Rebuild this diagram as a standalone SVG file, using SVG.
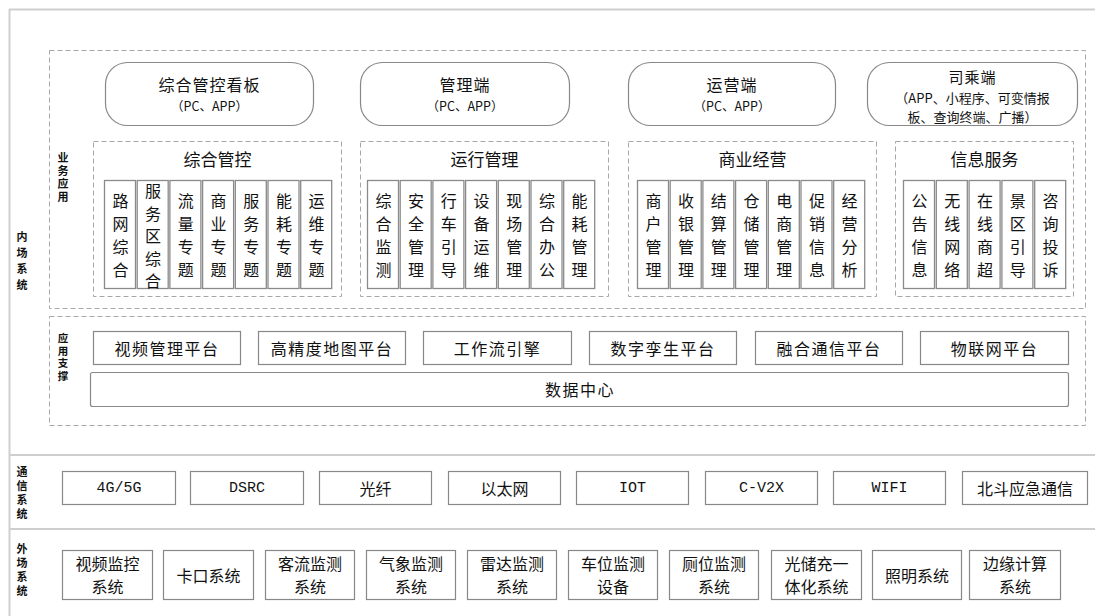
<svg xmlns="http://www.w3.org/2000/svg" width="1095" height="616" viewBox="0 0 1095 616">
<style>
text{font-family:"Noto Sans CJK SC","Liberation Sans",sans-serif;fill:#111;text-anchor:middle;dominant-baseline:central}
.panel{fill:none;stroke:#cfcfcf;stroke-width:2}
.dash{fill:none;stroke:#a8a8a8;stroke-width:1;stroke-dasharray:5 3}
.rbox{fill:#fff;stroke:#888;stroke-width:1.2}
.box{fill:#fff;stroke:#888;stroke-width:1.2}
.col{fill:#fff;stroke:#8a8a8a;stroke-width:1.3}
.side{font-size:11px;font-weight:bold;writing-mode:vertical-rl}
.t1{font-size:16px;letter-spacing:1px}
.t2{font-size:12.5px}
.t3{font-size:13px}
.st{font-size:17px}
.ct{font-size:16px}
.pt{font-size:16px;letter-spacing:1.5px}
.mt{font-size:15px;font-family:"Liberation Mono","Noto Sans CJK SC",monospace}
.et{font-size:16px}
</style>

<g id="panels">
<line class="panel" x1="9" y1="9.5" x2="1095" y2="9.5"/>
<line class="panel" x1="9.5" y1="9" x2="9.5" y2="616"/>
<line class="panel" x1="9" y1="455" x2="1095" y2="455"/>
<line class="panel" x1="9" y1="529" x2="1095" y2="529"/>
<rect class="dash" x="49.5" y="50.5" width="1036" height="258"/>
<rect class="dash" x="49.5" y="316.5" width="1036" height="109"/>
</g>

<g id="side-labels">
<text class="side" x="22" y="263" style="letter-spacing:5px">内场系统</text>
<text class="side" x="63" y="178.5" style="letter-spacing:2px">业务应用</text>
<text class="side" x="63" y="358" style="letter-spacing:2px;font-size:10.5px">应用支撑</text>
<text class="side" x="22" y="494.5" style="letter-spacing:3px">通信系统</text>
<text class="side" x="22" y="571.5" style="letter-spacing:3px">外场系统</text>
</g>

<g id="kanban"><rect class="rbox" x="105.5" y="62.5" width="208" height="63" rx="22"/><text class="t1" x="209.5" y="84">综合管控看板</text><text class="t2" x="209.5" y="105.5">（PC、APP）</text></g>
<g id="guanliduan"><rect class="rbox" x="360.5" y="62.5" width="209" height="63" rx="22"/><text class="t1" x="465" y="84">管理端</text><text class="t2" x="465" y="105.5">（PC、APP）</text></g>
<g id="yunyingduan"><rect class="rbox" x="628.5" y="62.5" width="207" height="63" rx="22"/><text class="t1" x="732" y="84">运营端</text><text class="t2" x="732" y="105.5">（PC、APP）</text></g>
<g id="sichengduan"><rect class="rbox" x="867.5" y="62.5" width="210" height="63" rx="22"/><text class="t1" x="972.5" y="76.5" style="font-size:15px">司乘端</text><text class="t3" x="972.5" y="97">（APP、小程序、可变情报</text><text class="t3" x="972.5" y="116">板、查询终端、广播）</text></g>

<g id="zonghe-guankong">
<rect class="dash" x="93.5" y="141.5" width="248" height="155"/>
<text class="st" x="217.5" y="158">综合管控</text>
<g id="c1-1"><rect class="col" x="104.5" y="180.5" width="31" height="108"/><text class="ct"><tspan x="120.4" y="200">路</tspan><tspan x="120.4" y="223">网</tspan><tspan x="120.4" y="246">综</tspan><tspan x="120.4" y="269">合</tspan></text></g>
<g id="c1-2"><rect class="col" x="137.2" y="180.5" width="31" height="108"/><text class="ct"><tspan x="153.1" y="190">服</tspan><tspan x="153.1" y="212.5">务</tspan><tspan x="153.1" y="235">区</tspan><tspan x="153.1" y="257.5">综</tspan><tspan x="153.1" y="280">合</tspan></text></g>
<g id="c1-3"><rect class="col" x="169.9" y="180.5" width="31" height="108"/><text class="ct"><tspan x="185.8" y="200">流</tspan><tspan x="185.8" y="223">量</tspan><tspan x="185.8" y="246">专</tspan><tspan x="185.8" y="269">题</tspan></text></g>
<g id="c1-4"><rect class="col" x="202.6" y="180.5" width="31" height="108"/><text class="ct"><tspan x="218.5" y="200">商</tspan><tspan x="218.5" y="223">业</tspan><tspan x="218.5" y="246">专</tspan><tspan x="218.5" y="269">题</tspan></text></g>
<g id="c1-5"><rect class="col" x="235.3" y="180.5" width="31" height="108"/><text class="ct"><tspan x="251.2" y="200">服</tspan><tspan x="251.2" y="223">务</tspan><tspan x="251.2" y="246">专</tspan><tspan x="251.2" y="269">题</tspan></text></g>
<g id="c1-6"><rect class="col" x="268" y="180.5" width="31" height="108"/><text class="ct"><tspan x="283.9" y="200">能</tspan><tspan x="283.9" y="223">耗</tspan><tspan x="283.9" y="246">专</tspan><tspan x="283.9" y="269">题</tspan></text></g>
<g id="c1-7"><rect class="col" x="300.7" y="180.5" width="31" height="108"/><text class="ct"><tspan x="316.6" y="200">运</tspan><tspan x="316.6" y="223">维</tspan><tspan x="316.6" y="246">专</tspan><tspan x="316.6" y="269">题</tspan></text></g>
</g>

<g id="yunxing-guanli">
<rect class="dash" x="360.5" y="141.5" width="248" height="155"/>
<text class="st" x="484.5" y="158">运行管理</text>
<g id="c2-1"><rect class="col" x="367.5" y="180.5" width="31" height="108"/><text class="ct"><tspan x="383.4" y="200">综</tspan><tspan x="383.4" y="223">合</tspan><tspan x="383.4" y="246">监</tspan><tspan x="383.4" y="269">测</tspan></text></g>
<g id="c2-2"><rect class="col" x="400.2" y="180.5" width="31" height="108"/><text class="ct"><tspan x="416.1" y="200">安</tspan><tspan x="416.1" y="223">全</tspan><tspan x="416.1" y="246">管</tspan><tspan x="416.1" y="269">理</tspan></text></g>
<g id="c2-3"><rect class="col" x="432.9" y="180.5" width="31" height="108"/><text class="ct"><tspan x="448.8" y="200">行</tspan><tspan x="448.8" y="223">车</tspan><tspan x="448.8" y="246">引</tspan><tspan x="448.8" y="269">导</tspan></text></g>
<g id="c2-4"><rect class="col" x="465.6" y="180.5" width="31" height="108"/><text class="ct"><tspan x="481.5" y="200">设</tspan><tspan x="481.5" y="223">备</tspan><tspan x="481.5" y="246">运</tspan><tspan x="481.5" y="269">维</tspan></text></g>
<g id="c2-5"><rect class="col" x="498.3" y="180.5" width="31" height="108"/><text class="ct"><tspan x="514.2" y="200">现</tspan><tspan x="514.2" y="223">场</tspan><tspan x="514.2" y="246">管</tspan><tspan x="514.2" y="269">理</tspan></text></g>
<g id="c2-6"><rect class="col" x="531" y="180.5" width="31" height="108"/><text class="ct"><tspan x="546.9" y="200">综</tspan><tspan x="546.9" y="223">合</tspan><tspan x="546.9" y="246">办</tspan><tspan x="546.9" y="269">公</tspan></text></g>
<g id="c2-7"><rect class="col" x="563.7" y="180.5" width="31" height="108"/><text class="ct"><tspan x="579.6" y="200">能</tspan><tspan x="579.6" y="223">耗</tspan><tspan x="579.6" y="246">管</tspan><tspan x="579.6" y="269">理</tspan></text></g>
</g>

<g id="shangye-jingying">
<rect class="dash" x="628.5" y="141.5" width="248" height="155"/>
<text class="st" x="752.5" y="158">商业经营</text>
<g id="c3-1"><rect class="col" x="637.5" y="180.5" width="31" height="108"/><text class="ct"><tspan x="653.4" y="200">商</tspan><tspan x="653.4" y="223">户</tspan><tspan x="653.4" y="246">管</tspan><tspan x="653.4" y="269">理</tspan></text></g>
<g id="c3-2"><rect class="col" x="670.2" y="180.5" width="31" height="108"/><text class="ct"><tspan x="686.1" y="200">收</tspan><tspan x="686.1" y="223">银</tspan><tspan x="686.1" y="246">管</tspan><tspan x="686.1" y="269">理</tspan></text></g>
<g id="c3-3"><rect class="col" x="702.9" y="180.5" width="31" height="108"/><text class="ct"><tspan x="718.8" y="200">结</tspan><tspan x="718.8" y="223">算</tspan><tspan x="718.8" y="246">管</tspan><tspan x="718.8" y="269">理</tspan></text></g>
<g id="c3-4"><rect class="col" x="735.6" y="180.5" width="31" height="108"/><text class="ct"><tspan x="751.5" y="200">仓</tspan><tspan x="751.5" y="223">储</tspan><tspan x="751.5" y="246">管</tspan><tspan x="751.5" y="269">理</tspan></text></g>
<g id="c3-5"><rect class="col" x="768.3" y="180.5" width="31" height="108"/><text class="ct"><tspan x="784.2" y="200">电</tspan><tspan x="784.2" y="223">商</tspan><tspan x="784.2" y="246">管</tspan><tspan x="784.2" y="269">理</tspan></text></g>
<g id="c3-6"><rect class="col" x="801" y="180.5" width="31" height="108"/><text class="ct"><tspan x="816.9" y="200">促</tspan><tspan x="816.9" y="223">销</tspan><tspan x="816.9" y="246">信</tspan><tspan x="816.9" y="269">息</tspan></text></g>
<g id="c3-7"><rect class="col" x="833.7" y="180.5" width="31" height="108"/><text class="ct"><tspan x="849.6" y="200">经</tspan><tspan x="849.6" y="223">营</tspan><tspan x="849.6" y="246">分</tspan><tspan x="849.6" y="269">析</tspan></text></g>
</g>

<g id="xinxi-fuwu">
<rect class="dash" x="895.5" y="141.5" width="178" height="155"/>
<text class="st" x="984.5" y="158">信息服务</text>
<g id="c4-1"><rect class="col" x="903.5" y="180.5" width="31" height="108"/><text class="ct"><tspan x="919.4" y="200">公</tspan><tspan x="919.4" y="223">告</tspan><tspan x="919.4" y="246">信</tspan><tspan x="919.4" y="269">息</tspan></text></g>
<g id="c4-2"><rect class="col" x="936.3" y="180.5" width="31" height="108"/><text class="ct"><tspan x="952.2" y="200">无</tspan><tspan x="952.2" y="223">线</tspan><tspan x="952.2" y="246">网</tspan><tspan x="952.2" y="269">络</tspan></text></g>
<g id="c4-3"><rect class="col" x="969.1" y="180.5" width="31" height="108"/><text class="ct"><tspan x="985" y="200">在</tspan><tspan x="985" y="223">线</tspan><tspan x="985" y="246">商</tspan><tspan x="985" y="269">超</tspan></text></g>
<g id="c4-4"><rect class="col" x="1001.9" y="180.5" width="31" height="108"/><text class="ct"><tspan x="1017.8" y="200">景</tspan><tspan x="1017.8" y="223">区</tspan><tspan x="1017.8" y="246">引</tspan><tspan x="1017.8" y="269">导</tspan></text></g>
<g id="c4-5"><rect class="col" x="1034.7" y="180.5" width="31" height="108"/><text class="ct"><tspan x="1050.6" y="200">咨</tspan><tspan x="1050.6" y="223">询</tspan><tspan x="1050.6" y="246">投</tspan><tspan x="1050.6" y="269">诉</tspan></text></g>
</g>

<g id="p-video"><rect class="box" x="93.5" y="331.5" width="147" height="33"/><text class="pt" x="167" y="348">视频管理平台</text></g>
<g id="p-map"><rect class="box" x="258.5" y="331.5" width="147" height="33"/><text class="pt" x="332" y="348">高精度地图平台</text></g>
<g id="p-workflow"><rect class="box" x="423.5" y="331.5" width="148" height="33"/><text class="pt" x="497.5" y="348">工作流引擎</text></g>
<g id="p-twin"><rect class="box" x="589.5" y="331.5" width="147" height="33"/><text class="pt" x="663" y="348">数字孪生平台</text></g>
<g id="p-comm"><rect class="box" x="755.5" y="331.5" width="147" height="33"/><text class="pt" x="829" y="348">融合通信平台</text></g>
<g id="p-iot"><rect class="box" x="920.5" y="331.5" width="148" height="33"/><text class="pt" x="994.5" y="348">物联网平台</text></g>
<g id="p-data"><rect class="box" x="90.5" y="372.5" width="978" height="34" rx="2"/><text class="pt" x="580" y="389">数据中心</text></g>

<g id="n-4g"><rect class="box" x="62.5" y="471.5" width="113" height="33"/><text class="mt" x="119" y="488">4G/5G</text></g>
<g id="n-dsrc"><rect class="box" x="190.5" y="471.5" width="113" height="33"/><text class="mt" x="247" y="488">DSRC</text></g>
<g id="n-fiber"><rect class="box" x="319.5" y="471.5" width="112" height="33"/><text class="et" x="375.5" y="488">光纤</text></g>
<g id="n-eth"><rect class="box" x="448.5" y="471.5" width="112" height="33"/><text class="et" x="504.5" y="488">以太网</text></g>
<g id="n-iot"><rect class="box" x="576.5" y="471.5" width="112" height="33"/><text class="mt" x="632.5" y="488">IOT</text></g>
<g id="n-cv2x"><rect class="box" x="705.5" y="471.5" width="112" height="33"/><text class="mt" x="761.5" y="488">C-V2X</text></g>
<g id="n-wifi"><rect class="box" x="833.5" y="471.5" width="112" height="33"/><text class="mt" x="889.5" y="488">WIFI</text></g>
<g id="n-beidou"><rect class="box" x="962.5" y="471.5" width="125" height="33"/><text class="et" x="1025" y="488">北斗应急通信</text></g>

<g id="e-video"><rect class="box" x="62.5" y="550.5" width="90" height="49"/><text class="et" x="107.5" y="563">视频监控</text><text class="et" x="107.5" y="586">系统</text></g>
<g id="e-kakou"><rect class="box" x="163.5" y="550.5" width="90" height="49"/><text class="et" x="208.5" y="575">卡口系统</text></g>
<g id="e-keliu"><rect class="box" x="265.5" y="550.5" width="89" height="49"/><text class="et" x="310" y="563">客流监测</text><text class="et" x="310" y="586">系统</text></g>
<g id="e-qixiang"><rect class="box" x="366.5" y="550.5" width="89" height="49"/><text class="et" x="411" y="563">气象监测</text><text class="et" x="411" y="586">系统</text></g>
<g id="e-leida"><rect class="box" x="467.5" y="550.5" width="89" height="49"/><text class="et" x="512" y="563">雷达监测</text><text class="et" x="512" y="586">系统</text></g>
<g id="e-chewei"><rect class="box" x="568.5" y="550.5" width="89" height="49"/><text class="et" x="613" y="563">车位监测</text><text class="et" x="613" y="586">设备</text></g>
<g id="e-cewei"><rect class="box" x="669.5" y="550.5" width="89" height="49"/><text class="et" x="714" y="563">厕位监测</text><text class="et" x="714" y="586">系统</text></g>
<g id="e-guangchu"><rect class="box" x="771.5" y="550.5" width="90" height="49"/><text class="et" x="816.5" y="563">光储充一</text><text class="et" x="816.5" y="586">体化系统</text></g>
<g id="e-zhaoming"><rect class="box" x="872.5" y="550.5" width="89" height="49"/><text class="et" x="917" y="575">照明系统</text></g>
<g id="e-bianyuan"><rect class="box" x="969.5" y="550.5" width="91" height="49"/><text class="et" x="1015" y="563">边缘计算</text><text class="et" x="1015" y="586">系统</text></g>

<g id="connectors"></g>
</svg>
